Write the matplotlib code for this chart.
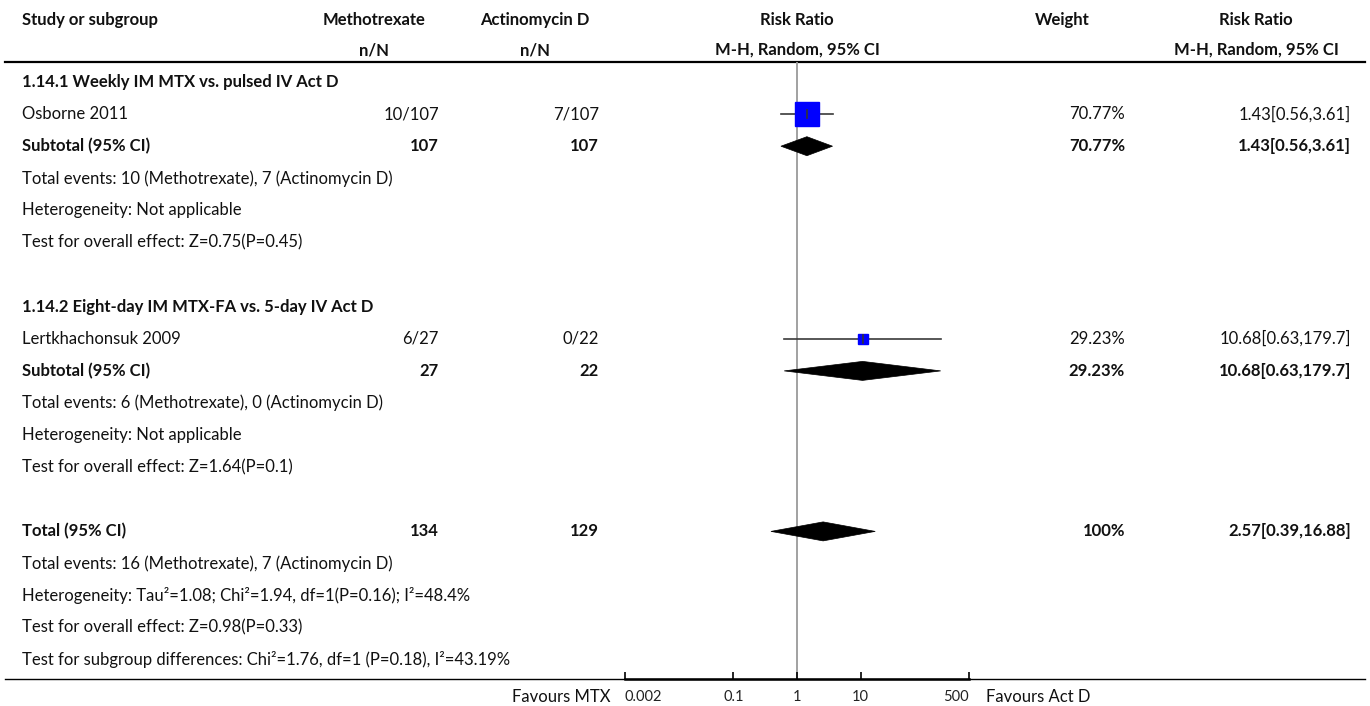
import matplotlib
matplotlib.use("Agg")
import matplotlib.pyplot as plt
from matplotlib.patches import Polygon

plt.rcParams['font.family'] = ['Lato', 'DejaVu Sans']

# ---- data ----
studies = ["Osborne 2011", "Lertkhachonsuk 2009"]
mtx_events = [10, 6]
mtx_total = [107, 27]
actd_events = [7, 0]
actd_total = [107, 22]
rr = [1.43, 10.68]
rr_lo = [0.56, 0.63]
rr_hi = [3.61, 179.7]
weights = [70.77, 29.23]

subgroup_titles = ["1.14.1 Weekly IM MTX vs. pulsed IV Act D",
                   "1.14.2 Eight-day IM MTX-FA vs. 5-day IV Act D"]
subgroup_notes = [
    ["Total events: 10 (Methotrexate), 7 (Actinomycin D)",
     "Heterogeneity: Not applicable",
     "Test for overall effect: Z=0.75(P=0.45)"],
    ["Total events: 6 (Methotrexate), 0 (Actinomycin D)",
     "Heterogeneity: Not applicable",
     "Test for overall effect: Z=1.64(P=0.1)"],
]

total_mtx = 134
total_actd = 129
total_rr, total_lo, total_hi = 2.57, 0.39, 16.88
total_weight = 100
total_notes = [
    "Total events: 16 (Methotrexate), 7 (Actinomycin D)",
    "Heterogeneity: Tau\u00b2=1.08; Chi\u00b2=1.94, df=1(P=0.16); I\u00b2=48.4%",
    "Test for overall effect: Z=0.98(P=0.33)",
    "Test for subgroup differences: Chi\u00b2=1.76, df=1 (P=0.18), I\u00b2=43.19%",
]

tick_values = [0.002, 0.1, 1, 10, 500]
tick_labels = ["0.002", "0.1", "1", "10", "500"]
favours_left = "Favours MTX"
favours_right = "Favours Act D"

# ---- layout (pixels) ----
W, H = 1370, 706
ROW0, ROWH = 82, 32.1
HEAD_LINE, AXIS_Y = 62, 679
X_STUDY, X_MTX, X_ACT, X_W, X_RR = 22, 439, 599, 1125, 1351
PLOT_L, PLOT_R = 625, 969
FS = 12

fig = plt.figure(figsize=(W / 100, H / 100), dpi=100)
bg = fig.add_axes([0, 0, 1, 1])
bg.set_xlim(0, W)
bg.set_ylim(H, 0)
bg.axis("off")

fp = fig.add_axes([PLOT_L / W, (H - AXIS_Y) / H, (PLOT_R - PLOT_L) / W,
                   (AXIS_Y - HEAD_LINE) / H])
fp.set_xscale("log")
fp.set_xlim(tick_values[0], tick_values[-1])
fp.set_ylim(AXIS_Y, HEAD_LINE)
fp.patch.set_alpha(0)
for s in ["top", "left", "right"]:
    fp.spines[s].set_visible(False)
fp.spines["bottom"].set_linewidth(1.8)
fp.set_yticks([])
fp.set_xticks(tick_values)
fp.set_xticklabels(tick_labels)
fp.minorticks_off()
fp.tick_params(axis="x", direction="in", length=5, width=1.2, pad=8,
               labelsize=10.5, labelcolor="#222222")
# end labels sit inside the axis span
xt = fp.get_xticklabels()
xt[0].set_horizontalalignment("left")
xt[-1].set_horizontalalignment("right")
fp.axvline(1, color="#9a9a9a", lw=1.3, zorder=0)


def row_y(i):
    return ROW0 + ROWH * i


def txt(x, y, s, ha="left", bold=False, size=FS, color="#111111"):
    bg.text(x, y, s, ha=ha, va="center", fontsize=size,
            fontweight="bold" if bold else "normal", color=color)


def diamond(y, est, lo, hi, h=19):
    poly = Polygon([(lo, y), (est, y - h / 2), (hi, y), (est, y + h / 2)],
                   closed=True, facecolor="black", edgecolor="black", lw=0.5)
    fp.add_patch(poly)


# header
hb = dict(bold=True)
txt(X_STUDY, 20, "Study or subgroup", **hb)
txt(374, 20, "Methotrexate", ha="center", **hb)
txt(374, 50, "n/N", ha="center", **hb)
txt(535, 20, "Actinomycin D", ha="center", **hb)
txt(535, 50, "n/N", ha="center", **hb)
txt(797, 20, "Risk Ratio", ha="center", **hb)
txt(797, 50, "M-H, Random, 95% CI", ha="center", **hb)
txt(1062, 20, "Weight", ha="center", **hb)
txt(1256, 20, "Risk Ratio", ha="center", **hb)
txt(1256, 50, "M-H, Random, 95% CI", ha="center", **hb)
bg.plot([5, 1365], [HEAD_LINE, HEAD_LINE], color="black", lw=1.6)
bg.plot([5, 1365], [AXIS_Y, AXIS_Y], color="black", lw=1.0)

r = 0
for k in range(len(studies)):
    txt(X_STUDY, row_y(r), subgroup_titles[k], bold=True)
    r += 1
    y = row_y(r)
    txt(X_STUDY, y, studies[k])
    txt(X_MTX, y, f"{mtx_events[k]}/{mtx_total[k]}", ha="right")
    txt(X_ACT, y, f"{actd_events[k]}/{actd_total[k]}", ha="right")
    txt(X_W, y, f"{weights[k]:.2f}%", ha="right")
    txt(X_RR, y, f"{rr[k]:g}[{rr_lo[k]:g},{rr_hi[k]:g}]", ha="right")
    fp.plot([rr_lo[k], rr_hi[k]], [y, y], color="#3a3a3a", lw=1.2, zorder=2)
    side = weights[k] * 0.325 * 0.72
    fp.plot([rr[k]], [y], marker="s", ms=side, color="#0000ff",
            mec="#0000ff", zorder=3)
    fp.plot([rr[k], rr[k]], [y - 4, y + 4], color="#333333", lw=1.2, zorder=4)
    r += 1
    y = row_y(r)
    txt(X_STUDY, y, "Subtotal (95% CI)", bold=True)
    txt(X_MTX, y, f"{mtx_total[k]}", ha="right", bold=True)
    txt(X_ACT, y, f"{actd_total[k]}", ha="right", bold=True)
    txt(X_W, y, f"{weights[k]:.2f}%", ha="right", bold=True)
    txt(X_RR, y, f"{rr[k]:g}[{rr_lo[k]:g},{rr_hi[k]:g}]", ha="right", bold=True)
    diamond(y, rr[k], rr_lo[k], rr_hi[k])
    r += 1
    for note in subgroup_notes[k]:
        txt(X_STUDY, row_y(r), note)
        r += 1
    r += 1

y = row_y(r)
txt(X_STUDY, y, "Total (95% CI)", bold=True)
txt(X_MTX, y, f"{total_mtx}", ha="right", bold=True)
txt(X_ACT, y, f"{total_actd}", ha="right", bold=True)
txt(X_W, y, f"{total_weight}%", ha="right", bold=True)
txt(X_RR, y, f"{total_rr:g}[{total_lo:g},{total_hi:g}]", ha="right", bold=True)
diamond(y, total_rr, total_lo, total_hi)
r += 1
for note in total_notes:
    txt(X_STUDY, row_y(r), note)
    r += 1

txt(PLOT_L - 14, 697, favours_left, ha="right", size=12)
txt(PLOT_R + 17, 697, favours_right, ha="left", size=12)

fig.savefig("out.png", dpi=100)
